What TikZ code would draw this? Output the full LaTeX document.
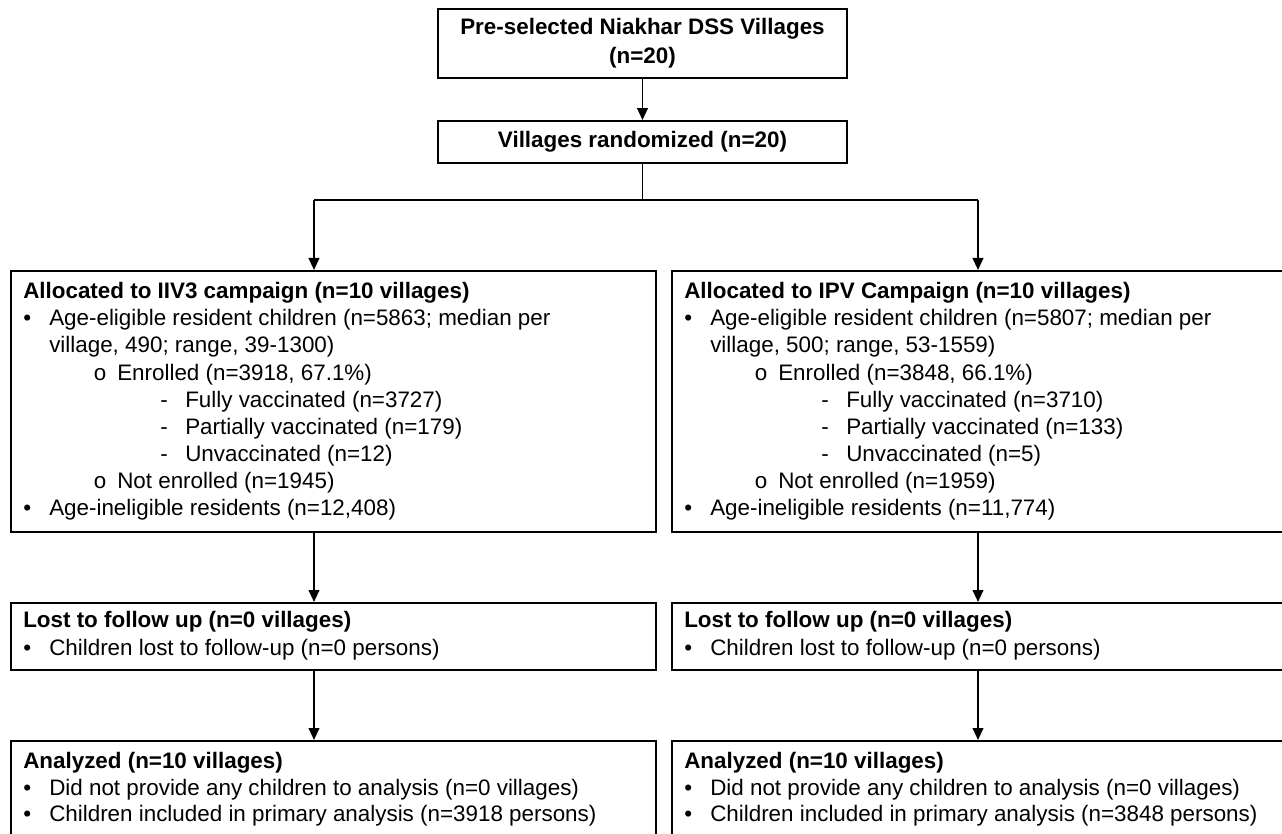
\documentclass[tikz,border=0pt]{standalone}
\usepackage{fontspec}
\setmainfont{Liberation Sans}
\newfontfamily\monof{Liberation Mono}
\usetikzlibrary{arrows.meta}
\newcommand{\bul}{\makebox[19.5pt][l]{•}}
\newcommand{\circb}{\makebox[18pt][l]{{\monof o}}}
\newcommand{\dashb}{\makebox[18.75pt][l]{-}}
\begin{document}
\begin{tikzpicture}[x=0.75pt,y=-0.75pt,
  box/.style={draw,line width=1.4pt,inner sep=0pt,anchor=north west},
  cbox/.style={draw,line width=1.4pt,inner sep=0pt,align=center,font=\fontsize{16.8}{22}\selectfont\bfseries},
  txt/.style={anchor=base west,inner sep=0pt,font=\fontsize{16.8}{20}\selectfont},
  btxt/.style={anchor=base west,inner sep=0pt,font=\fontsize{16.8}{20}\selectfont\bfseries},
  arr/.style={line width=1.4pt,-{Triangle[length=9pt,width=8pt]}},
  ln/.style={line width=1.4pt}]
\useasboundingbox (0,0) rectangle (1282,834);
\clip (0,0) rectangle (1282,834);
\fill[white] (0,0) rectangle (1282,834);

% top boxes
\node[cbox,minimum width=306.75pt,minimum height=51.75pt] (top) at (642.5,43.5) {Pre-selected Niakhar DSS Villages\\(n=20)};
\node[cbox,minimum width=306.75pt,minimum height=31.5pt] (rand) at (642.5,142) {Villages randomized (n=20)};

% big boxes
\node[box,minimum width=483.75pt,minimum height=195.75pt] (lbox) at (10,270) {};
\node[box,minimum width=483.75pt,minimum height=195.75pt] (rbox) at (671,270) {};
\node[box,minimum width=483.75pt,minimum height=50.25pt] (llost) at (10,602) {};
\node[box,minimum width=483.75pt,minimum height=50.25pt] (rlost) at (671,602) {};
\node[box,minimum width=483.75pt,minimum height=90pt] (lana) at (10,740) {};
\node[box,minimum width=483.75pt,minimum height=90pt] (rana) at (671,740) {};

% connectors
\coordinate (jL) at (314,200);
\coordinate (jR) at (978,200);
\draw[arr] (top) -- (rand);
\draw[ln] (rand.south) -- (rand.south |- jL);
\draw[ln] (jL) -- (jR);
\draw[arr] (jL) -- (jL |- lbox.north);
\draw[arr] (jR) -- (jR |- rbox.north);
\draw[arr] (lbox.south -| jL) -- (llost.north -| jL);
\draw[arr] (rbox.south -| jR) -- (rlost.north -| jR);
\draw[arr] (llost.south -| jL) -- (lana.north -| jL);
\draw[arr] (rlost.south -| jR) -- (rana.north -| jR);

% left big box text
\node[btxt] (l1) at (23,299) {Allocated to IIV3 campaign (n=10 villages)};
\node[txt] (l2) at (23,326) {\bul Age-eligible resident children (n=5863; median per};
\node[txt] (l3) at (49,353) {village, 490; range, 39-1300)};
\node[txt] (l4) at (93,380) {\circb Enrolled (n=3918, 67.1\%)};
\node[txt] (l5) at (160,407) {\dashb Fully vaccinated (n=3727)};
\node[txt] (l6) at (160,434) {\dashb Partially vaccinated (n=179)};
\node[txt] (l7) at (160,461) {\dashb Unvaccinated (n=12)};
\node[txt] (l8) at (93,488) {\circb Not enrolled (n=1945)};
\node[txt] (l9) at (23,515) {\bul Age-ineligible residents (n=12,408)};

% right big box text
\node[btxt] (r1) at (684,299) {Allocated to IPV Campaign (n=10 villages)};
\node[txt] (r2) at (684,326) {\bul Age-eligible resident children (n=5807; median per};
\node[txt] (r3) at (710,353) {village, 500; range, 53-1559)};
\node[txt] (r4) at (754,380) {\circb Enrolled (n=3848, 66.1\%)};
\node[txt] (r5) at (821,407) {\dashb Fully vaccinated (n=3710)};
\node[txt] (r6) at (821,434) {\dashb Partially vaccinated (n=133)};
\node[txt] (r7) at (821,461) {\dashb Unvaccinated (n=5)};
\node[txt] (r8) at (754,488) {\circb Not enrolled (n=1959)};
\node[txt] (r9) at (684,515) {\bul Age-ineligible residents (n=11,774)};

% lost boxes text
\node[btxt] (ll1) at (23,627) {Lost to follow up (n=0 villages)};
\node[txt] (ll2) at (23,655) {\bul Children lost to follow-up (n=0 persons)};
\node[btxt] (rl1) at (684,627) {Lost to follow up (n=0 villages)};
\node[txt] (rl2) at (684,655) {\bul Children lost to follow-up (n=0 persons)};

% analyzed boxes text
\node[btxt] (la1) at (23,768) {Analyzed (n=10 villages)};
\node[txt] (la2) at (23,795) {\bul Did not provide any children to analysis (n=0 villages)};
\node[txt] (la3) at (23,821) {\bul Children included in primary analysis (n=3918 persons)};
\node[btxt] (ra1) at (684,768) {Analyzed (n=10 villages)};
\node[txt] (ra2) at (684,795) {\bul Did not provide any children to analysis (n=0 villages)};
\node[txt] (ra3) at (684,821) {\bul Children included in primary analysis (n=3848 persons)};
\end{tikzpicture}
\end{document}
